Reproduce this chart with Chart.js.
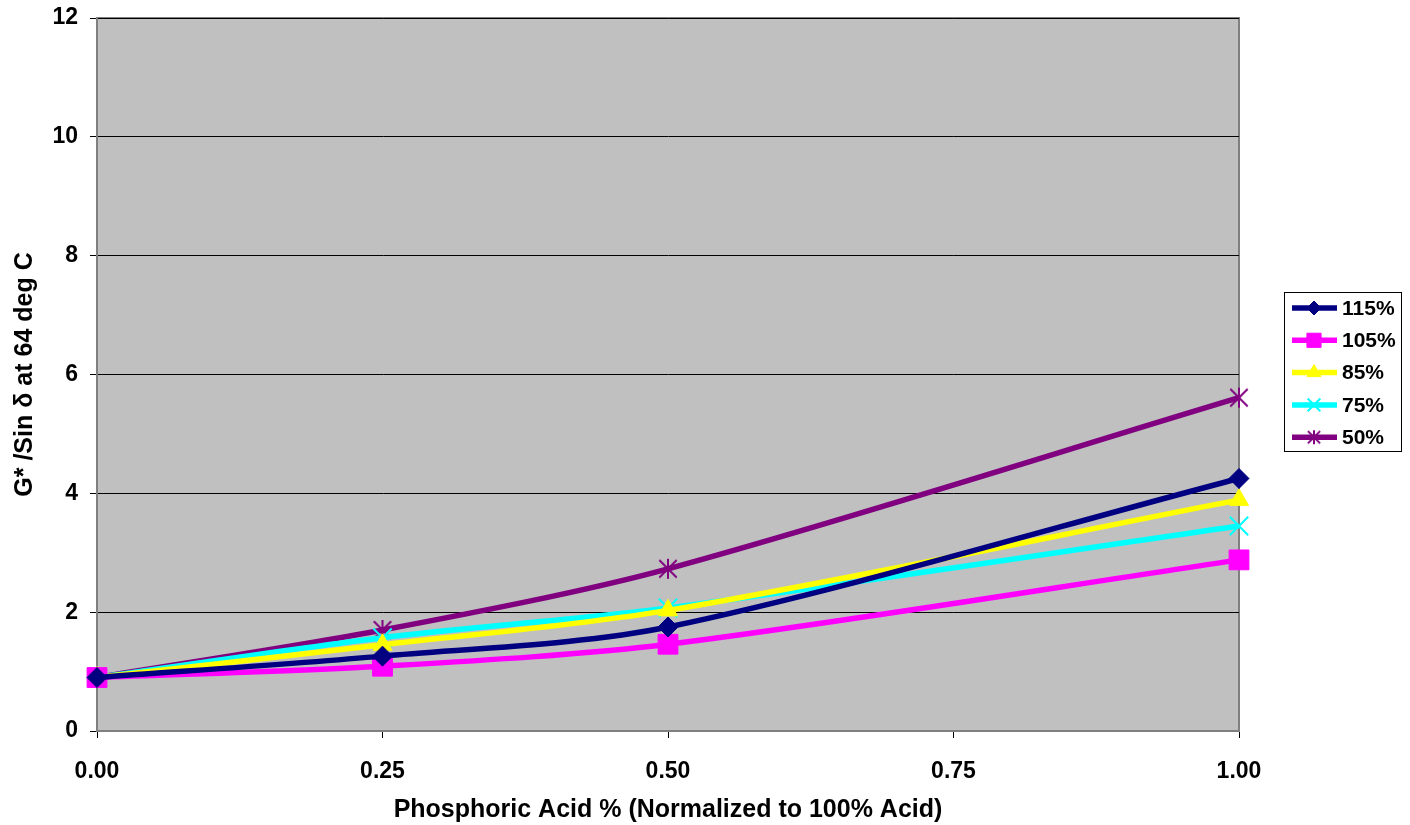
<!DOCTYPE html>
<html>
<head>
<meta charset="utf-8">
<script src="https://cdn.jsdelivr.net/npm/chart.js@4.4.0/dist/chart.umd.min.js"></script>
<style>
  html, body { margin: 0; padding: 0; background: #fff; }
  #wrap { width: 1410px; height: 825px; }
</style>
</head>
<body>
<div id="wrap"><canvas id="chart"></canvas></div>
<script>
const xValues = [0, 0.25, 0.5, 1.0];
const seriesNames = ['115%', '105%', '85%', '75%', '50%'];
const s115 = [0.9, 1.26, 1.75, 4.25];
const s105 = [0.9, 1.09, 1.46, 2.88];
const s85 = [0.9, 1.45, 2.03, 3.89];
const s75 = [0.9, 1.57, 2.07, 3.45];
const s50 = [0.9, 1.70, 2.73, 5.61];
const yTicks = [0, 2, 4, 6, 8, 10, 12];
const xTicks = [0, 0.25, 0.5, 0.75, 1.0];

const colors = ['#000080', '#FF00FF', '#FFFF00', '#00FFFF', '#800080'];
const allSeries = [s115, s105, s85, s75, s50];
const family = 'Arial, "Liberation Sans", sans-serif';

// six-armed asterisk like the Excel marker
function asterisk(color, size) {
  const c = document.createElement('canvas');
  c.width = size; c.height = size;
  const g = c.getContext('2d');
  const m = size / 2, r = size / 2 - 1;
  g.strokeStyle = color;
  g.lineWidth = 2;
  g.beginPath();
  g.moveTo(m, m - r); g.lineTo(m, m + r);
  g.moveTo(m - r * 0.87, m - r * 0.87); g.lineTo(m + r * 0.87, m + r * 0.87);
  g.moveTo(m + r * 0.87, m - r * 0.87); g.lineTo(m - r * 0.87, m + r * 0.87);
  g.stroke();
  return c;
}

const markers = ['rectRot', 'rect', 'triangle', 'crossRot', asterisk('#800080', 22)];
const radii = [10, 14, 11, 13, 11];
const legendMarkers = ['rectRot', 'rect', 'triangle', 'crossRot', asterisk('#800080', 16)];
const legendRadii = [7, 10, 8, 9, 8];

const datasets = allSeries.map((vals, i) => ({
  label: seriesNames[i],
  data: vals.map((v, j) => ({ x: xValues[j], y: v })),
  borderColor: colors[i],
  backgroundColor: colors[i],
  pointBorderColor: colors[i],
  pointBackgroundColor: colors[i],
  pointStyle: markers[i],
  pointRadius: radii[i],
  pointBorderWidth: markers[i] === 'crossRot' ? 2 : 1,
  borderWidth: 5.5,
  tension: 0.3,
  clip: false,
  fill: false
}));

const plotBg = {
  id: 'plotBg',
  beforeDraw(chart) {
    const { ctx, chartArea: a } = chart;
    ctx.save();
    ctx.fillStyle = '#C0C0C0';
    ctx.fillRect(a.left, a.top, a.right - a.left, a.bottom - a.top);
    ctx.strokeStyle = '#808080';
    ctx.lineWidth = 2;
    ctx.beginPath();
    ctx.moveTo(a.left, a.top);
    ctx.lineTo(a.right, a.top);
    ctx.lineTo(a.right, a.bottom);
    ctx.stroke();
    ctx.restore();
  }
};

const boxLegend = {
  id: 'boxLegend',
  afterDraw(chart) {
    const ctx = chart.ctx;
    const x0 = 1284, y0 = 292, w = 117, h = 159;
    ctx.save();
    ctx.fillStyle = '#fff';
    ctx.fillRect(x0, y0, w, h);
    ctx.strokeStyle = '#000';
    ctx.lineWidth = 1;
    ctx.strokeRect(x0 + 0.5, y0 + 0.5, w, h);
    ctx.font = 'bold 21px ' + family;
    ctx.textBaseline = 'middle';
    chart.data.datasets.forEach((ds, i) => {
      const y = y0 + 16 + i * 32.3;
      ctx.strokeStyle = ds.borderColor;
      ctx.lineWidth = 5.5;
      ctx.beginPath();
      ctx.moveTo(x0 + 8, y);
      ctx.lineTo(x0 + 53, y);
      ctx.stroke();
      ctx.fillStyle = ds.borderColor;
      ctx.strokeStyle = ds.borderColor;
      ctx.lineWidth = ds.pointBorderWidth;
      Chart.helpers.drawPoint(ctx, { pointStyle: legendMarkers[i], radius: legendRadii[i], borderWidth: ds.pointBorderWidth }, x0 + 30, y);
      ctx.fillStyle = '#000';
      ctx.fillText(ds.label, x0 + 58, y + 1);
    });
    ctx.restore();
  }
};

new Chart(document.getElementById('chart'), {
  type: 'line',
  data: { datasets: datasets },
  plugins: [plotBg, boxLegend],
  options: {
    responsive: true,
    maintainAspectRatio: false,
    animation: false,
    layout: { autoPadding: false, padding: { left: 0, top: 18, right: 171, bottom: 0 } },
    plugins: {
      legend: { display: false },
      tooltip: { enabled: false }
    },
    scales: {
      x: {
        type: 'linear',
        min: 0,
        max: 1,
        afterBuildTicks(scale) { scale.ticks = xTicks.map(v => ({ value: v })); },
        afterFit(scale) { scale.height = 94; scale.paddingLeft = 0; scale.paddingRight = 0; },
        ticks: {
          font: { family: family, weight: 'bold', size: 23 },
          color: '#000',
          padding: 20,
          maxRotation: 0,
          callback: v => Number(v).toFixed(2)
        },
        grid: { drawOnChartArea: false, drawTicks: true, tickLength: 7, color: '#000' },
        border: { color: '#808080', width: 2 },
        title: {
          display: true,
          text: 'Phosphoric Acid % (Normalized to 100% Acid)',
          font: { family: family, weight: 'bold', size: 25 },
          color: '#000',
          padding: { top: 4, bottom: 0 }
        }
      },
      y: {
        min: 0,
        max: 12,
        afterBuildTicks(scale) { scale.ticks = yTicks.map(v => ({ value: v })); },
        afterFit(scale) { scale.width = 97; scale.paddingTop = 0; scale.paddingBottom = 0; },
        ticks: { font: { family: family, weight: 'bold', size: 23 }, color: '#000', padding: 12 },
        grid: { color: '#000', lineWidth: 1, tickLength: 7, tickColor: '#000' },
        border: { color: '#808080', width: 2 },
        title: {
          display: true,
          text: 'G* /Sin δ at 64 deg C',
          font: { family: family, weight: 'bold', size: 25 },
          color: '#000',
          padding: { top: 10, bottom: 4 }
        }
      }
    }
  }
});
</script>
</body>
</html>
